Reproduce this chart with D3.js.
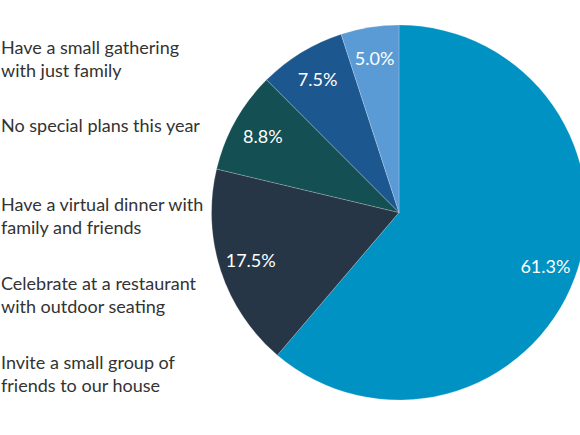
<!doctype html>
<html lang='en'>
  <head>
    <meta charset="utf-8">
    <script src="https://d3js.org/d3.v7.min.js"></script>
    <title>Holiday plans</title>
  <style>
  body{
    margin: 0;
    background: white;
  }
  .legend text {
    font-family: Lato, 'Open Sans', sans-serif;
    font-size: 18px;
    fill: #333;
  }
  .slice-label {
    font-family: Lato, 'Open Sans', sans-serif;
    font-size: 18px;
    fill: white;
  }
  </style>
  </head>
  <body>
    <div id='chart'></div>
    <script>
    // legend entries, top to bottom (each entry already split into lines)
    const categories = [
      ['Have a small gathering', 'with just family'],
      ['No special plans this year'],
      ['Have a virtual dinner with', 'family and friends'],
      ['Celebrate at a restaurant', 'with outdoor seating'],
      ['Invite a small group of', 'friends to our house']
    ];
    // slice values, clockwise from 12 o'clock
    const values = [61.3, 17.5, 8.8, 7.5, 5.0];
    const colors = ['#0092c2', '#263646', '#134f53', '#1c5790', '#5b9bd5'];

    const w = 580;
    const h = 435;
    const cx = 399;
    const cy = 212.5;
    const radius = 187.5;

    const svg = d3.select('#chart')
                  .append('svg')
                  .attr('width', w)
                  .attr('height', h);

    const pie = d3.pie().sort(null).value(d => d);
    const arc = d3.arc().innerRadius(0).outerRadius(radius);
    const labelArc = d3.arc().innerRadius(156).outerRadius(156);

    const g = svg.append('g')
                 .attr('transform', 'translate(' + cx + ',' + cy + ')');

    const arcs = pie(values);

    g.selectAll('path')
      .data(arcs)
      .enter()
      .append('path')
      .attr('d', arc)
      .attr('fill', (d, i) => colors[i])
      .attr('stroke', 'rgba(255,255,255,0.35)')
      .attr('stroke-width', 0.6);

    g.selectAll('text')
      .data(arcs)
      .enter()
      .append('text')
      .attr('class', 'slice-label')
      .attr('transform', d => 'translate(' + labelArc.centroid(d) + ')')
      .attr('text-anchor', 'middle')
      .attr('dy', '0.35em')
      .text(d => d.value.toFixed(1) + '%');

    // baseline of the first line of each entry
    const legendY = d3.scaleLinear()
                      .domain([0, categories.length - 1])
                      .range([53.5, 368.5]);

    const legend = svg.append('g').attr('class', 'legend');

    legend.selectAll('text')
      .data(categories)
      .enter()
      .append('text')
      .attr('x', 1)
      .attr('y', (d, i) => legendY(i))
      .each(function(lines) {
        d3.select(this).selectAll('tspan')
          .data(lines)
          .enter()
          .append('tspan')
          .attr('x', 1)
          .attr('dy', (l, j) => j === 0 ? 0 : 23)
          .text(l => l);
      });
    </script>
  </body>
</html>
